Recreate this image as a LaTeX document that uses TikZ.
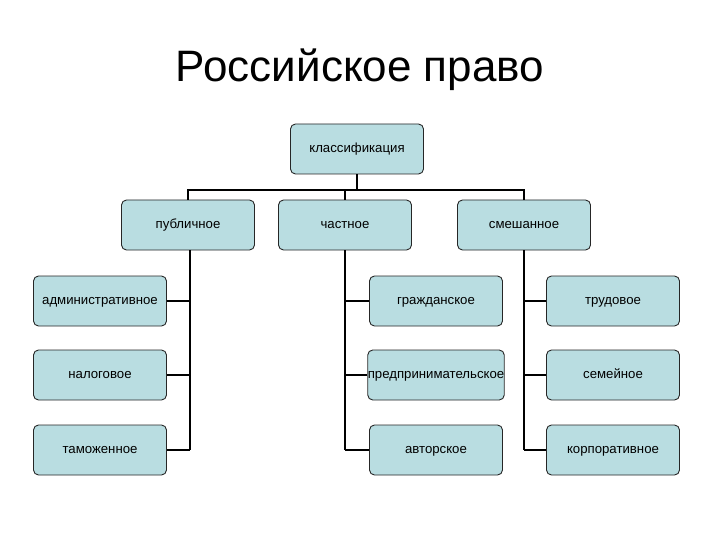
\documentclass[tikz,border=0pt]{standalone}
\usepackage{fontspec}
\setmainfont{Liberation Sans}
\definecolor{boxfill}{HTML}{B9DDE1}
\begin{document}
\begin{tikzpicture}[x=1pt,y=-1pt,
  bx/.style={draw=black!85,line width=0.9pt,fill=boxfill,rounded corners=5pt,minimum width=133pt,minimum height=50pt,inner sep=0pt,text height=9pt,text depth=2pt,font=\fontsize{13.2}{15}\selectfont},
  ln/.style={line width=1.6pt}]
\useasboundingbox (0,0) rectangle (720,540);
\node[font=\fontsize{44}{50}\selectfont] (title) at (360,70) {Российское право};
\node[bx] (k) at (357,149) {классификация};
\node[bx] (pub) at (188,225) {публичное};
\node[bx] (ch) at (345,225) {частное};
\node[bx] (sm) at (524,225) {смешанное};
\node[bx] (adm) at (100,301) {административное};
\node[bx] (nal) at (100,375) {налоговое};
\node[bx] (tam) at (100,450) {таможенное};
\node[bx] (gr) at (436,301) {гражданское};
\node[bx] (pr) at (436,375) {предпринимательское};
\node[bx] (av) at (436,450) {авторское};
\node[bx] (tr) at (613,301) {трудовое};
\node[bx] (se) at (613,375) {семейное};
\node[bx] (ko) at (613,450) {корпоративное};
\coordinate (j) at (357,190);
\draw[ln] (k.south) -- (j);
\draw[ln] (pub.north) -- (188,190) -- (524,190) -- (sm.north);
\draw[ln] (ch.north) -- (345,190);
\draw[ln] (pub.south -| 190,0) -- (190,450);
\draw[ln] (adm.east) -- (190,301);
\draw[ln] (nal.east) -- (190,375);
\draw[ln] (tam.east) -- (190,450);
\draw[ln] (ch.south) -- (345,450);
\draw[ln] (gr.west) -- (345,301);
\draw[ln] (pr.west) -- (345,375);
\draw[ln] (av.west) -- (345,450);
\draw[ln] (sm.south) -- (524,450);
\draw[ln] (tr.west) -- (524,301);
\draw[ln] (se.west) -- (524,375);
\draw[ln] (ko.west) -- (524,450);
\end{tikzpicture}
\end{document}
